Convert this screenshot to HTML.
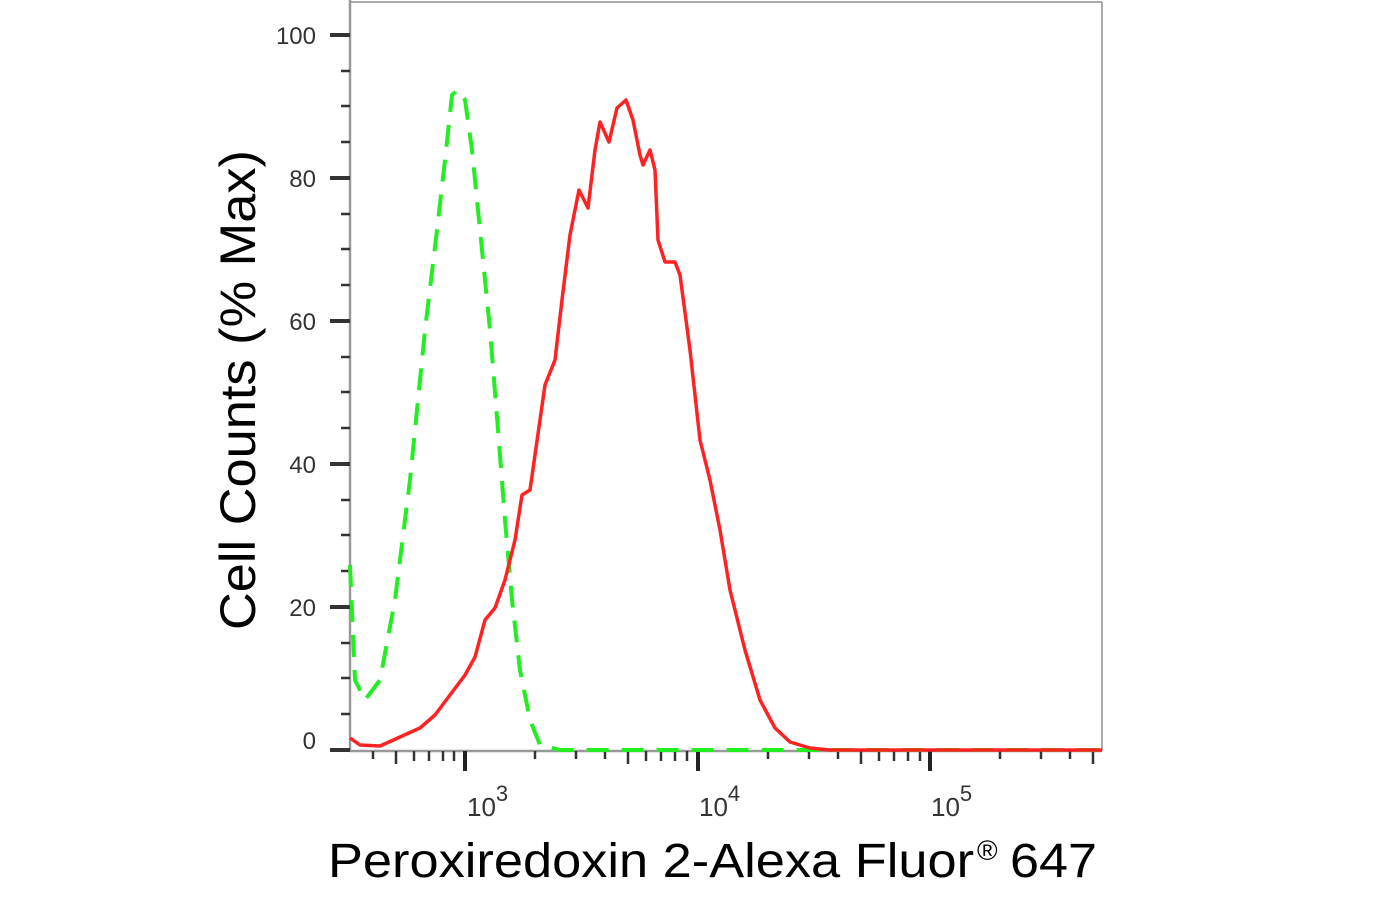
<!DOCTYPE html>
<html><head><meta charset="utf-8"><style>
html,body{margin:0;padding:0;background:#fff;}
svg{display:block;}
</style></head><body>
<svg width="1392" height="903" viewBox="0 0 1392 903" xmlns="http://www.w3.org/2000/svg">
<rect width="1392" height="903" fill="#fff"/>
<line x1="350" y1="2" x2="1102" y2="2" stroke="#aaa" stroke-width="2"/>
<line x1="1102" y1="2" x2="1102" y2="751" stroke="#aaa" stroke-width="2"/>
<line x1="350" y1="0" x2="350" y2="751" stroke="#999" stroke-width="2.5"/>
<line x1="350" y1="751" x2="1102" y2="751" stroke="#999" stroke-width="2.5"/>
<g stroke="#333" stroke-width="4">
<line x1="330" y1="35" x2="350" y2="35"/><line x1="330" y1="178" x2="350" y2="178"/>
<line x1="330" y1="321" x2="350" y2="321"/><line x1="330" y1="464" x2="350" y2="464"/>
<line x1="330" y1="607" x2="350" y2="607"/><line x1="330" y1="750" x2="350" y2="750"/>
</g>
<g stroke="#333" stroke-width="2.5">
<line x1="341" y1="71" x2="350" y2="71"/><line x1="341" y1="106" x2="350" y2="106"/><line x1="341" y1="142" x2="350" y2="142"/>
<line x1="341" y1="214" x2="350" y2="214"/><line x1="341" y1="249" x2="350" y2="249"/><line x1="341" y1="285" x2="350" y2="285"/>
<line x1="341" y1="357" x2="350" y2="357"/><line x1="341" y1="392" x2="350" y2="392"/><line x1="341" y1="428" x2="350" y2="428"/>
<line x1="341" y1="500" x2="350" y2="500"/><line x1="341" y1="535" x2="350" y2="535"/><line x1="341" y1="571" x2="350" y2="571"/>
<line x1="341" y1="643" x2="350" y2="643"/><line x1="341" y1="678" x2="350" y2="678"/><line x1="341" y1="714" x2="350" y2="714"/>
</g>
<g font-family="Liberation Sans, sans-serif" font-size="24" fill="#333" text-anchor="end">
<text x="316" y="44">100</text><text x="316" y="187">80</text><text x="316" y="330">60</text>
<text x="316" y="473">40</text><text x="316" y="616">20</text><text x="316" y="749">0</text>
</g>
<g stroke="#222" stroke-width="4">
<line x1="465" y1="751" x2="465" y2="771"/><line x1="698" y1="751" x2="698" y2="771"/><line x1="930" y1="751" x2="930" y2="771"/>
</g>
<g stroke="#333" stroke-width="2.5">
<line x1="373" y1="751" x2="373" y2="759"/><line x1="396" y1="751" x2="396" y2="764"/><line x1="414" y1="751" x2="414" y2="761"/><line x1="429" y1="751" x2="429" y2="761"/><line x1="443" y1="751" x2="443" y2="761"/><line x1="454" y1="751" x2="454" y2="761"/>
<line x1="535" y1="751" x2="535" y2="759"/><line x1="576" y1="751" x2="576" y2="759"/><line x1="605" y1="751" x2="605" y2="759"/><line x1="628" y1="751" x2="628" y2="764"/><line x1="646" y1="751" x2="646" y2="761"/><line x1="661" y1="751" x2="661" y2="761"/><line x1="675" y1="751" x2="675" y2="761"/><line x1="687" y1="751" x2="687" y2="761"/>
<line x1="768" y1="751" x2="768" y2="759"/><line x1="809" y1="751" x2="809" y2="759"/><line x1="838" y1="751" x2="838" y2="759"/><line x1="861" y1="751" x2="861" y2="764"/><line x1="879" y1="751" x2="879" y2="761"/><line x1="894" y1="751" x2="894" y2="761"/><line x1="908" y1="751" x2="908" y2="761"/><line x1="920" y1="751" x2="920" y2="761"/>
<line x1="1000" y1="751" x2="1000" y2="759"/><line x1="1041" y1="751" x2="1041" y2="759"/><line x1="1070" y1="751" x2="1070" y2="759"/><line x1="1093" y1="751" x2="1093" y2="764"/>
</g>
<g font-family="Liberation Sans, sans-serif" font-size="26" fill="#333">
<text x="467" y="816">10<tspan font-size="22" dy="-15">3</tspan></text>
<text x="699" y="816">10<tspan font-size="22" dy="-15">4</tspan></text>
<text x="931" y="816">10<tspan font-size="22" dy="-15">5</tspan></text>
</g>
<polyline fill="none" stroke="#22ee22" stroke-width="4" stroke-dasharray="22,13" points="350,565 355,680 365,700 380,680 395,600 410,480 425,330 437,230 445,160 452,95 458,90 465,100 472,150 480,230 490,330 498,430 505,520 512,600 520,670 530,720 540,745 560,750 1102,750"/>
<polyline fill="none" stroke="#ff2222" stroke-width="3.5" stroke-linejoin="round" points="350,738 360,745 380,746 400,737 420,728 435,715 450,695 465,675 475,657 485,620 495,608 505,580 515,540 522,495 530,490 540,420 545,385 555,360 562,300 570,235 579,190 588,208 595,150 600,122 609,142 617,108 626,100 633,120 640,155 643,165 650,150 655,170 658,240 665,262 675,262 680,275 690,350 700,440 710,480 720,530 730,590 745,650 760,700 775,728 790,742 810,748 830,750 1102,750"/>
<text transform="translate(255,390) rotate(-90)" text-anchor="middle" font-family="Liberation Sans, sans-serif" font-size="50" fill="#000" textLength="480" lengthAdjust="spacingAndGlyphs">Cell Counts (% Max)</text>
<text x="328" y="877" font-family="Liberation Sans, sans-serif" font-size="48" fill="#000" textLength="646" lengthAdjust="spacingAndGlyphs">Peroxiredoxin 2-Alexa Fluor</text>
<text x="977" y="860" font-family="Liberation Sans, sans-serif" font-size="28" fill="#000">®</text>
<text x="1010" y="877" font-family="Liberation Sans, sans-serif" font-size="48" fill="#000" textLength="87" lengthAdjust="spacingAndGlyphs">647</text>
</svg>
</body></html>
